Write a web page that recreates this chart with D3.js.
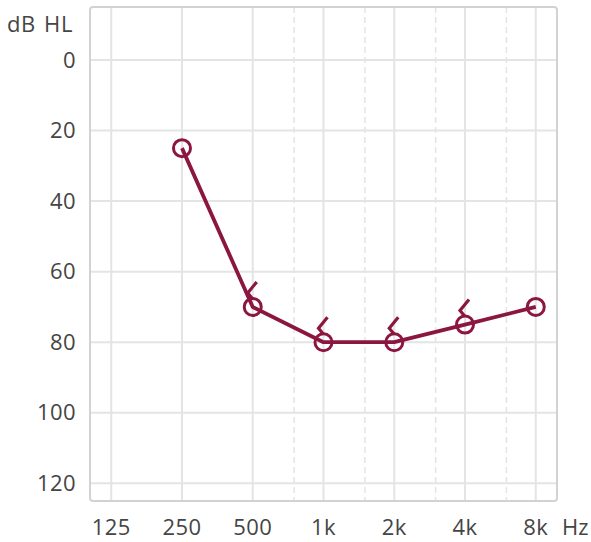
<!DOCTYPE html>
<html>
<head>
<meta charset="utf-8">
<script src="https://cdn.jsdelivr.net/npm/d3@7"></script>
<style>
  html, body { margin: 0; padding: 0; background: #fff; }
  svg { display: block; font-family: 'Open Sans', sans-serif; }
</style>
</head>
<body>
<svg id="chart" width="591" height="542"></svg>
<script>
// 청력도 데이터
const freqs = [125, 250, 500, 1000, 2000, 4000, 8000];
const freqLabels = ['125', '250', '500', '1k', '2k', '4k', '8k'];
const midFreqs = [750, 1500, 3000, 6000];
const dbTicks = [0, 20, 40, 60, 80, 100, 120];

const airFreqs = [250, 500, 1000, 2000, 4000, 8000];
const airValues = [25, 70, 80, 80, 75, 70];
const boneFreqs = [500, 1000, 2000, 4000];
const boneValues = [70, 80, 80, 75];

const color = '#8b1740';
const textColor = '#454545';
const [plotLeft, plotRight, plotTop, plotBottom] = [90, 557, 7, 501];

const svg = d3.select('#chart');

// 주파수는 옥타브 단위(log2) 로 배치
const x = d3.scaleLinear()
	.domain([Math.log2(125) - 0.3, Math.log2(8000) + 0.3])
	.range([plotLeft, plotRight]);
const fx = f => x(Math.log2(f));
const y = d3.scaleLinear().domain([-15, 125]).range([plotTop, plotBottom]);

const grid = svg.append('g');
grid.selectAll('.h')
	.data(dbTicks)
	.join('line')
	.attr('x1', plotLeft).attr('x2', plotRight)
	.attr('y1', d => y(d)).attr('y2', d => y(d))
	.attr('stroke', '#e4e4e4').attr('stroke-width', 2);
grid.selectAll('.v')
	.data(freqs)
	.join('line')
	.attr('x1', d => fx(d)).attr('x2', d => fx(d))
	.attr('y1', plotTop).attr('y2', plotBottom)
	.attr('stroke', '#e4e4e4').attr('stroke-width', 2);
grid.selectAll('.m')
	.data(midFreqs)
	.join('line')
	.attr('x1', d => fx(d)).attr('x2', d => fx(d))
	.attr('y1', plotTop).attr('y2', plotBottom)
	.attr('stroke', '#e4e4e4').attr('stroke-width', 1.5)
	.attr('stroke-dasharray', '6,4');

svg.append('rect')
	.attr('x', plotLeft).attr('y', plotTop)
	.attr('width', plotRight - plotLeft).attr('height', plotBottom - plotTop)
	.attr('rx', 3)
	.attr('fill', 'none')
	.attr('stroke', '#d2d2d2').attr('stroke-width', 2);

// 축 레이블
svg.append('g')
	.selectAll('text')
	.data(dbTicks)
	.join('text')
	.attr('x', 76).attr('y', d => y(d))
	.attr('dy', '0.35em')
	.attr('text-anchor', 'end')
	.attr('font-size', 22)
	.attr('letter-spacing', 0.4)
	.attr('fill', textColor)
	.text(d => d);

svg.append('text')
	.attr('x', 73).attr('y', 32)
	.attr('text-anchor', 'end')
	.attr('font-size', 22)
	.attr('letter-spacing', 0.6)
	.attr('word-spacing', 2)
	.attr('fill', textColor)
	.text('dB HL');

svg.append('g')
	.selectAll('text')
	.data(freqs)
	.join('text')
	.attr('x', d => fx(d)).attr('y', 535)
	.attr('text-anchor', 'middle')
	.attr('font-size', 22)
	.attr('letter-spacing', 0.4)
	.attr('fill', textColor)
	.text((d, i) => freqLabels[i]);

svg.append('text')
	.attr('x', 562).attr('y', 535)
	.attr('font-size', 22)
	.attr('fill', textColor)
	.text('Hz');

// 기도 청력 선
const airData = airFreqs.map((f, i) => ({ f, v: airValues[i] }));
const line = d3.line().x(d => fx(d.f)).y(d => y(d.v));
svg.append('path')
	.attr('d', line(airData))
	.attr('fill', 'none')
	.attr('stroke', color)
	.attr('stroke-width', 3.8)
	.attr('stroke-linejoin', 'round');

// 골도 기호 (<)
const boneData = boneFreqs.map((f, i) => ({ f, v: boneValues[i] }));
svg.append('g')
	.selectAll('path')
	.data(boneData)
	.join('path')
	.attr('transform', d => `translate(${fx(d.f)},${y(d.v)})`)
	.attr('d', 'M4,-25L-5,-14L0,-8')
	.attr('fill', 'none')
	.attr('stroke', color)
	.attr('stroke-width', 3.2);

svg.append('g')
	.selectAll('circle')
	.data(airData)
	.join('circle')
	.attr('cx', d => fx(d.f)).attr('cy', d => y(d.v))
	.attr('r', 8.5)
	.attr('fill', 'none')
	.attr('stroke', color)
	.attr('stroke-width', 3);
</script>
</body>
</html>
